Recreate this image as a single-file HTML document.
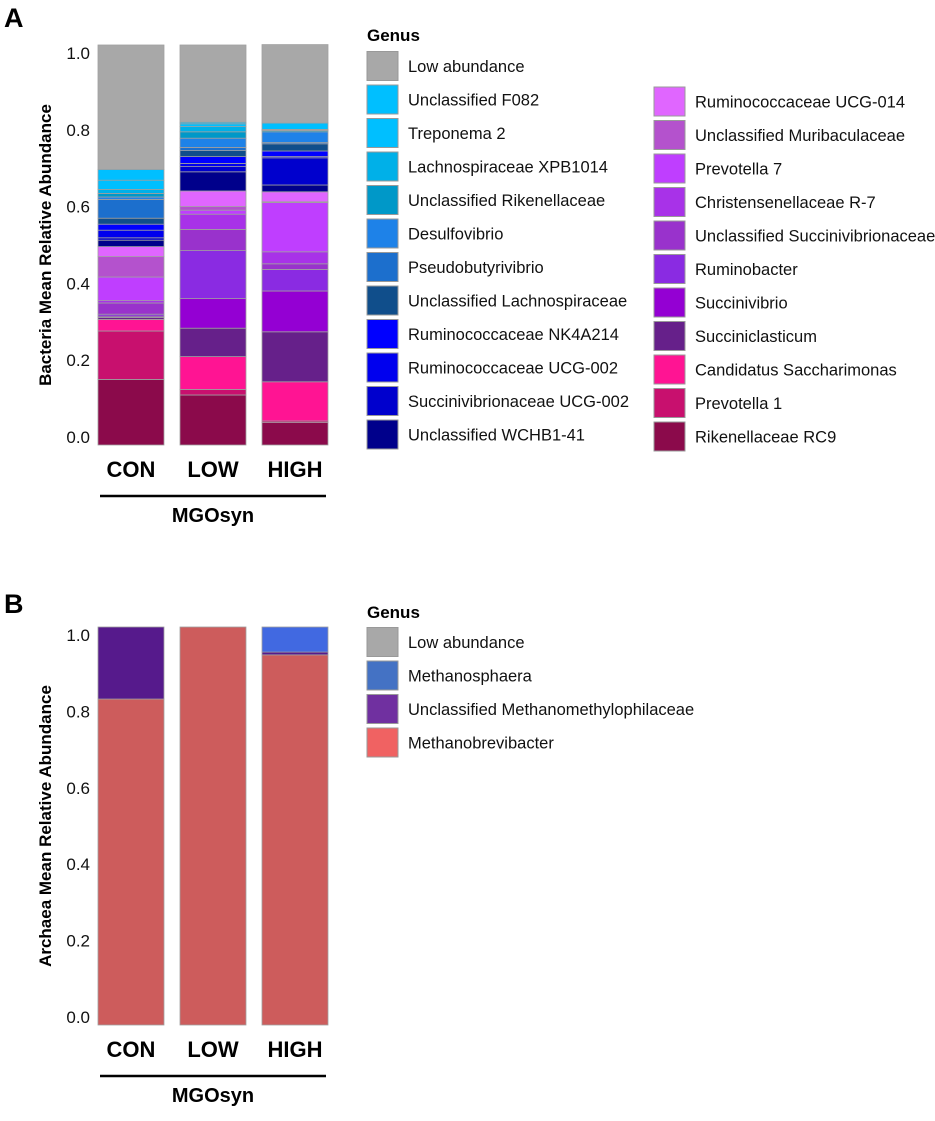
<!DOCTYPE html>
<html><head><meta charset="utf-8"><style>
body{margin:0;background:#fff;font-family:"Liberation Sans",Arial,sans-serif}
svg text{font-family:"Liberation Sans",Arial,sans-serif}
</style></head><body>
<svg id="chart" width="935" height="1116" viewBox="0 0 935 1116" xmlns="http://www.w3.org/2000/svg">
<text x="4" y="27" font-size="27" font-weight="bold">A</text>
<text x="4" y="613" font-size="27" font-weight="bold">B</text>
<g id="pa"></g>
<g id="pb"></g>
</svg>
<script>
const groups = ["CON","LOW","HIGH"];
const bactGenera = ["Rikenellaceae RC9","Prevotella 1","Candidatus Saccharimonas","Succiniclasticum","Succinivibrio","Ruminobacter","Unclassified Succinivibrionaceae","Christensenellaceae R-7","Prevotella 7","Unclassified Muribaculaceae","Ruminococcaceae UCG-014","Unclassified WCHB1-41","Succinivibrionaceae UCG-002","Ruminococcaceae UCG-002","Ruminococcaceae NK4A214","Unclassified Lachnospiraceae","Pseudobutyrivibrio","Desulfovibrio","Unclassified Rikenellaceae","Lachnospiraceae XPB1014","Treponema 2","Unclassified F082","Low abundance"];
const bactColors = ["#8b0a4b","#c8106e","#ff1493","#66208a","#9400d3","#8a2be2","#9932cc","#a832e8","#bf3eff","#b452cd","#e066ff","#00008b","#0000cd","#0000ee","#0000ff","#104e8b","#1c6fcd","#1e82e8","#0098c8","#00b0e8","#00bfff","#00bfff","#a8a8a8"];
const bactCON = [0.164,0.121,0.029,0.005,0.003,0.005,0.028,0.006,0.059,0.051,0.025,0.016,0.006,0.019,0.015,0.015,0.047,0.006,0.009,0.010,0.023,0.027,0.311];
const bactLOW = [0.125,0.014,0.082,0.071,0.074,0.120,0.053,0.038,0.010,0.009,0.039,0.048,0.013,0.008,0.017,0.015,0.008,0.023,0.016,0.013,0.007,0.004,0.193];
const bactHIGH = [0.056,0.004,0.098,0.125,0.102,0.054,0.014,0.030,0.123,0.002,0.025,0.017,0.068,0.003,0.014,0.018,0.003,0.027,0.003,0.001,0.002,0.016,0.196];
const archGenera = ["Methanobrevibacter","Unclassified Methanomethylophilaceae","Methanosphaera","Low abundance"];
const archColors = ["#cd5c5c","#561a8c","#4169e1","#a8a8a8"];
const archLegendColors = ["#f06262","#7030a0","#4472c4","#a8a8a8"];
const archCON = [0.819,0.181,0,0];
const archLOW = [1.0,0,0,0];
const archHIGH = [0.930,0.007,0.063,0];
const yTicks = [0,0.2,0.4,0.6,0.8,1.0];
const yTickLabels = ["0.0","0.2","0.4","0.6","0.8","1.0"];

const NS="http://www.w3.org/2000/svg";
function mk(parent,tag,attrs,txt){const e=document.createElementNS(NS,tag);for(const k in attrs)e.setAttribute(k,attrs[k]);if(txt!==undefined)e.textContent=txt;parent.appendChild(e);return e;}

function panel(g, top, bottom, series, genera, colors, legendColors, legendOrder, ylabel, legendTop, firstRow, twoCol){
  const xs=[98,180,262], bw=66;
  const y=v=>bottom-(bottom-top)*v;
  const labY=v=>(bottom-8)-(bottom-top-16)*v+6;
  yTicks.forEach((t,i)=>{
    const tx=mk(g,'text',{x:90,y:labY(t),'font-size':17,'text-anchor':'end',fill:'#111'},yTickLabels[i]);
    
    
  });
  const yl=mk(g,'text',{x:0,y:0,'font-size':17,'font-weight':'bold','text-anchor':'middle',transform:`translate(51,${(top+bottom)/2}) rotate(-90)`},ylabel);
  
  
  series.forEach((vals,gi)=>{
    let cum=0;
    vals.forEach((v,k)=>{
      if(v<=0){return;}
      const r=mk(g,'rect',{x:xs[gi],y:y(cum+v),width:bw,height:y(cum)-y(cum+v),fill:colors[k],stroke:'#a0a0a0','stroke-width':0.8});
      
      
      cum+=v;
    });
    const xl=mk(g,'text',{x:xs[gi]+bw/2,y:bottom+32,'font-size':22,'font-weight':'bold','text-anchor':'middle'},groups[gi]);
    
    
  });
  const ln=mk(g,'line',{x1:100,x2:326,y1:bottom+51,y2:bottom+51,stroke:'#000','stroke-width':2.5});
  
  
  const mg=mk(g,'text',{x:213,y:bottom+77,'font-size':20,'font-weight':'bold','text-anchor':'middle'},'MGOsyn');
  
  
  const lt=mk(g,'text',{x:367,y:legendTop,'font-size':17,'font-weight':'bold'},'Genus');
  
  
  legendOrder.forEach((k,i)=>{
    let col=0,row=i;
    if(twoCol && i>=12){col=1;row=i-12+1;}
    const sx=col?654:367, cy=firstRow+row*33.5+(col?2:0);
    const sw=mk(g,'rect',{x:sx,y:cy-14.5,width:31,height:29,fill:legendColors[k],stroke:'#999','stroke-width':1});
    
    
    const tx=mk(g,'text',{x:sx+41,y:cy+6,'font-size':16.5,fill:'#111'},genera[k]);
    
    
  });
}
const bOrder=[];for(let i=bactGenera.length-1;i>=0;i--)bOrder.push(i);
panel(document.getElementById('pa'),45,445,[bactCON,bactLOW,bactHIGH],bactGenera,bactColors,bactColors,bOrder,'Bacteria Mean Relative Abundance',41,66,true);
panel(document.getElementById('pb'),627,1025,[archCON,archLOW,archHIGH],archGenera,archColors,archLegendColors,[3,2,1,0],'Archaea Mean Relative Abundance',618,642,false);
</script>
</body></html>
